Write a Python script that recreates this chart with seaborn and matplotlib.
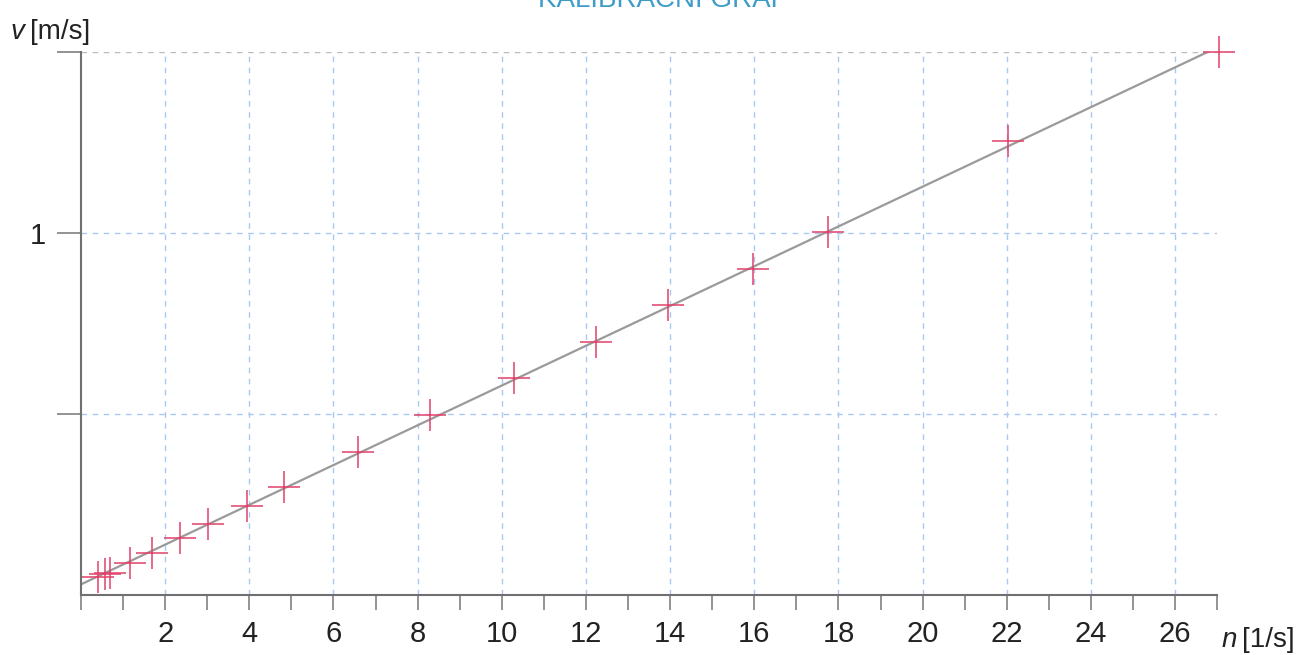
import numpy as np
import pandas as pd
import matplotlib
matplotlib.use("Agg")
import matplotlib.pyplot as plt
import seaborn as sns

# ---- data ----
n_values = [0.40, 0.57, 0.69, 1.16, 1.68, 2.35, 3.03, 3.94, 4.82,
            6.58, 8.29, 10.29, 12.24, 13.95, 15.97, 17.75, 22.03, 27.05]
v_values = [0.050, 0.057, 0.062, 0.089, 0.117, 0.157, 0.196, 0.246, 0.297,
            0.395, 0.498, 0.600, 0.700, 0.800, 0.900, 1.004, 1.253, 1.500]
x_major_ticks = list(range(0, 28))
x_label_ticks = list(range(2, 27, 2))
y_ticks = [0.5, 1.0, 1.5]
y_tick_labels = ["", "1", ""]
title_text = "KALIBRAČNÍ GRAF"
x_label = "[1/s]"
y_label = "[m/s]"

df = pd.DataFrame({"n": n_values, "v": v_values})

sns.set_theme(style="white")
plt.rcParams["font.family"] = ["Liberation Sans", "DejaVu Sans"]

fig = plt.figure(figsize=(13.06, 6.55), dpi=100)
ax = fig.add_axes([0.062, 0.0916, 0.870, 0.829])

# grid
for xv in x_label_ticks:
    ax.axvline(xv, color="#a9c9f2", lw=1.0, ls=(0, (4, 4)), zorder=0)
for yv, col in zip(y_ticks, ["#a9c9f2", "#a9c9f2", "#b8bcc4"]):
    ax.axhline(yv, color=col, lw=1.0, ls=(0, (4, 4)), zorder=0)

# fit line
coef = np.polyfit(df["n"], df["v"], 1)
xl = np.array([0.0, df["n"].max()])
ax.plot(xl, np.polyval(coef, xl), color="#9a9a9a", lw=1.6, zorder=2)

sns.scatterplot(data=df, x="n", y="v", marker="+", s=560, color="#e2406a",
                linewidth=1.1, ax=ax, zorder=3, clip_on=False, legend=False)

ax.set_xlim(0, 27)
ax.set_ylim(0, 1.5)
ax.set_xticks(x_major_ticks)
ax.set_xticklabels([str(t) if t in x_label_ticks else "" for t in x_major_ticks],
                   fontsize=21, color="#222222")
ax.set_yticks(y_ticks)
ax.set_yticklabels(y_tick_labels, fontsize=21, color="#222222")
ax.tick_params(axis="x", bottom=True, direction="out", length=11, width=1.2,
               color="#808080", pad=7)
ax.tick_params(axis="y", left=True, direction="out", length=17, width=1.2,
               color="#808080", pad=8)
ax.set_xlabel("")
ax.set_ylabel("")

for s in ["top", "right"]:
    ax.spines[s].set_visible(False)
for s in ["left", "bottom"]:
    ax.spines[s].set_color("#707070")
    ax.spines[s].set_linewidth(1.5)

# axis labels
fig.text(10 / 1306, 1 - 39 / 655, "v", fontsize=20, style="italic", color="#222222",
         va="baseline", ha="left")
fig.text(30 / 1306, 1 - 39 / 655, y_label, fontsize=20, color="#222222",
         va="baseline", ha="left")
fig.text(1222 / 1306, 1 - 647 / 655, "n", fontsize=20, style="italic", color="#222222",
         va="baseline", ha="left")
fig.text(1242 / 1306, 1 - 647 / 655, x_label, fontsize=20, color="#222222",
         va="baseline", ha="left")

# title (cut off at the top as in the scan)
fig.text(663 / 1306, 1 - 7 / 655, title_text, fontsize=20, color="#3d9dc8",
         va="baseline", ha="center")

fig.savefig("out.png", dpi=100, facecolor="white")
